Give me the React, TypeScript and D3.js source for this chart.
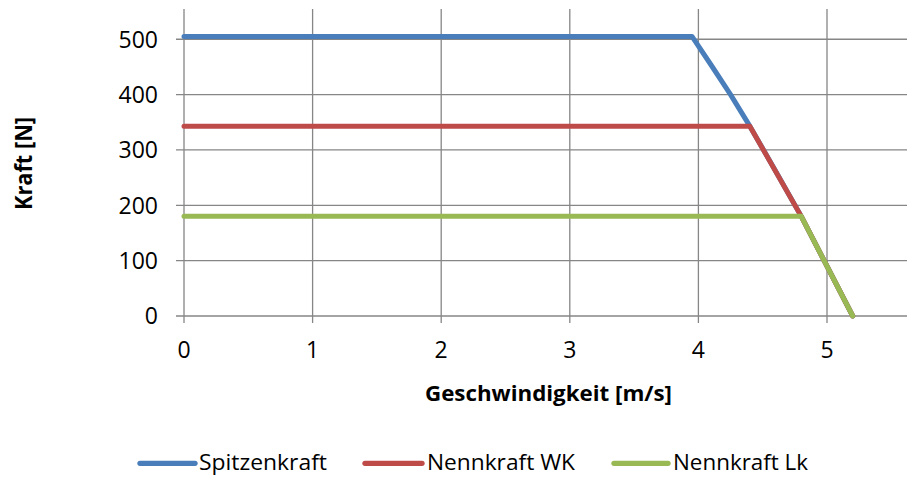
import React from "react";
import * as d3 from "d3";

const xTicks = [0, 1, 2, 3, 4, 5];
const yTicks = [0, 100, 200, 300, 400, 500];

const spitzenX = [0, 3.95, 4.1, 4.25, 4.4, 4.6, 4.8, 5.0, 5.2];
const spitzenY = [505, 505, 453, 400, 343, 262, 180, 90, 0];
const wkX = [0, 4.4, 4.8, 5.2];
const wkY = [343, 343, 180, 0];
const lkX = [0, 4.8, 5.2];
const lkY = [180, 180, 0];

const seriesNames = ["Spitzenkraft", "Nennkraft WK", "Nennkraft Lk"];
const seriesColors = ["#4a7ebb", "#be4b48", "#98b954"];

const W = 907;
const H = 477;
const FONT = "'Open Sans', 'Noto Sans', sans-serif";

export default function App() {
  const x = d3.scaleLinear().domain([0, 1]).range([184, 312.6]);
  const y = d3.scaleLinear().domain([0, 100]).range([316, 260.65]);
  const top = 9;
  const right = W;

  const line = d3
    .line<[number, number]>()
    .x((d) => x(d[0]))
    .y((d) => y(d[1]));

  const series = [
    spitzenX.map((v, i) => [v, spitzenY[i]] as [number, number]),
    wkX.map((v, i) => [v, wkY[i]] as [number, number]),
    lkX.map((v, i) => [v, lkY[i]] as [number, number]),
  ];

  const legendItems = [
    { lx: 140, lx2: 195, tx: 199, len: 128 },
    { lx: 365, lx2: 422, tx: 427, len: 148 },
    { lx: 614, lx2: 668, tx: 673, len: 135 },
  ];

  return (
    <svg
      width={W}
      height={H}
      style={{ position: "absolute", left: 0, top: 0, background: "#fff" }}
      fontFamily={FONT}
    >
      {yTicks.map((t) => (
        <line
          key={"gy" + t}
          x1={176}
          x2={right}
          y1={y(t)}
          y2={y(t)}
          stroke="#868686"
          strokeWidth={1.3}
        />
      ))}
      {xTicks.map((t) => (
        <line
          key={"gx" + t}
          x1={x(t)}
          x2={x(t)}
          y1={top}
          y2={y(0) + 7}
          stroke="#868686"
          strokeWidth={1.3}
        />
      ))}
      {yTicks.map((t) => (
        <text
          key={"ty" + t}
          x={158}
          y={y(t)}
          dy="0.36em"
          textAnchor="end"
          fontSize={23}
          fill="#000"
        >
          {t}
        </text>
      ))}
      {xTicks.map((t) => (
        <text
          key={"tx" + t}
          x={x(t)}
          y={358}
          textAnchor="middle"
          fontSize={23}
          fill="#000"
        >
          {t}
        </text>
      ))}
      {series.map((s, i) => (
        <path
          key={"s" + i}
          d={line(s) || ""}
          fill="none"
          stroke={seriesColors[i]}
          strokeWidth={5}
          strokeLinejoin="round"
          strokeLinecap="round"
        />
      ))}
      <text
        x={548.5}
        y={400.5}
        textAnchor="middle"
        fontSize={22}
        fontWeight="bold"
        textLength={247}
        lengthAdjust="spacingAndGlyphs"
      >
        Geschwindigkeit [m/s]
      </text>
      <text
        transform="translate(32,163.5) rotate(-90)"
        textAnchor="middle"
        fontSize={23}
        fontWeight="bold"
        textLength={93}
        lengthAdjust="spacingAndGlyphs"
      >
        Kraft [N]
      </text>
      {legendItems.map((li, i) => (
        <g key={"l" + i}>
          <line
            x1={li.lx}
            x2={li.lx2}
            y1={463.3}
            y2={463.3}
            stroke={seriesColors[i]}
            strokeWidth={5.3}
            strokeLinecap="round"
          />
          <text
            x={li.tx}
            y={470}
            fontSize={22}
            textLength={li.len}
            lengthAdjust="spacingAndGlyphs"
          >
            {seriesNames[i]}
          </text>
        </g>
      ))}
    </svg>
  );
}
